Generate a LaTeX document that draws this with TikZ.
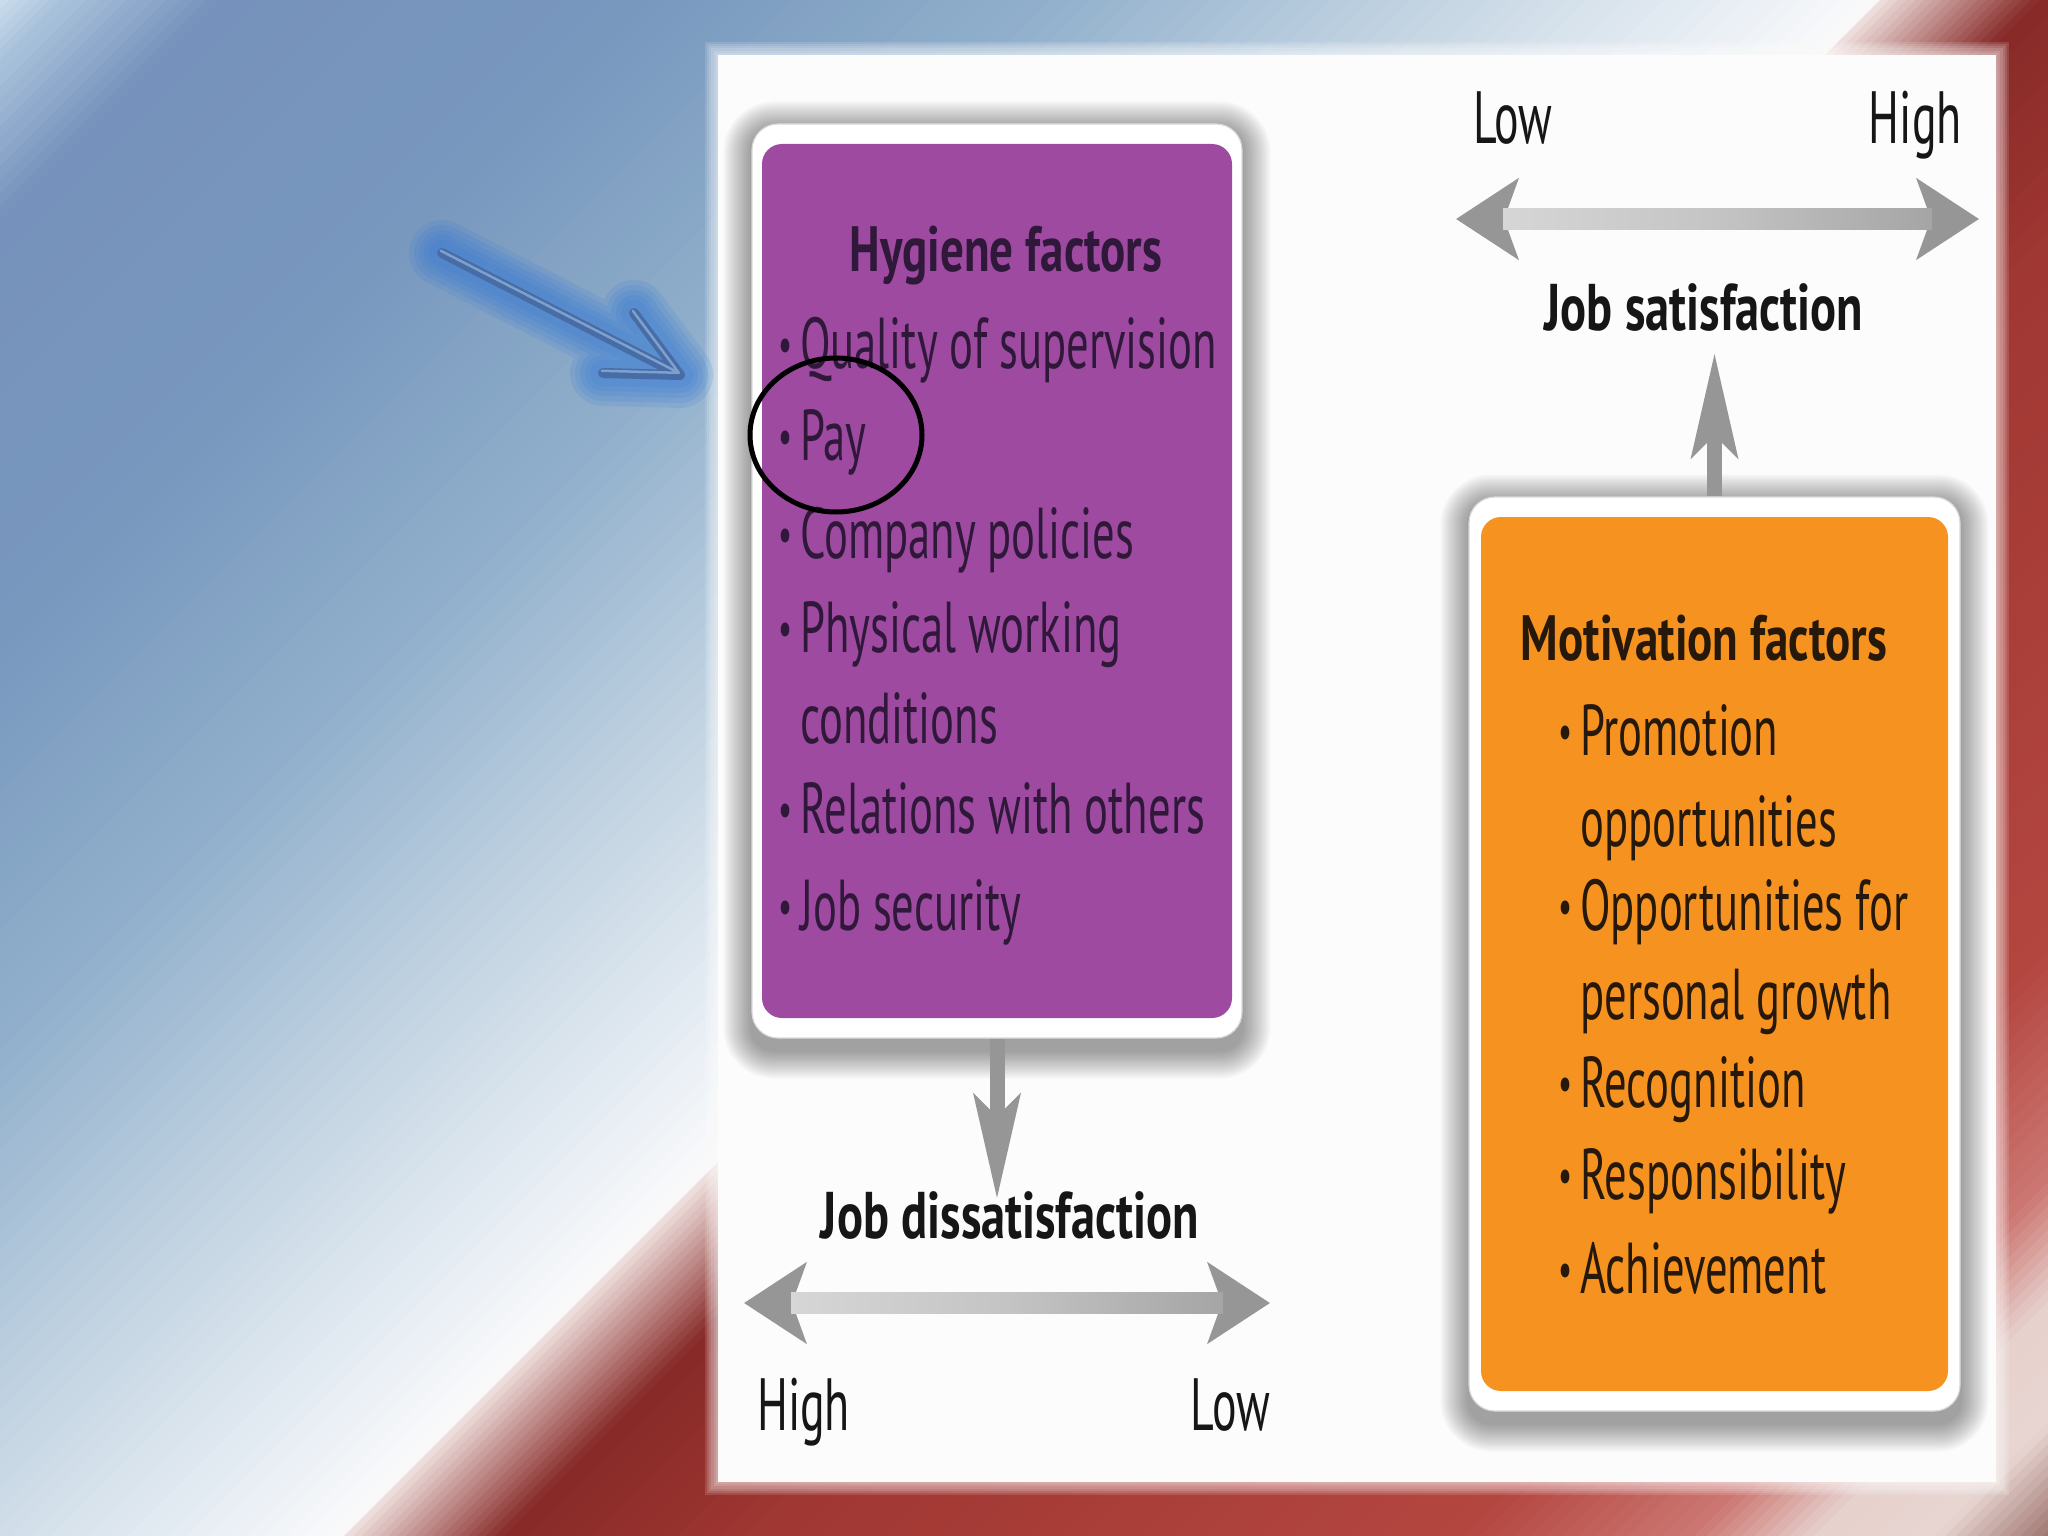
\documentclass[tikz,border=0pt]{standalone}
\usepackage{fontspec}
\setmainfont{PT Sans}
\newfontfamily\bodyf[FakeStretch=0.62]{PT Sans}
\newfontfamily\boldf[FakeStretch=0.735]{PT Sans}
\usetikzlibrary{arrows.meta,shapes.geometric,calc}

\definecolor{bgA}{RGB}{205,222,236}
\definecolor{bgB}{RGB}{170,195,220}
\definecolor{bgC}{RGB}{118,146,188}
\definecolor{bgD}{RGB}{120,152,190}
\definecolor{bgE}{RGB}{145,176,204}
\definecolor{bgF}{RGB}{198,214,228}
\definecolor{bgG}{RGB}{240,244,248}
\definecolor{bgH}{RGB}{250,250,250}
\definecolor{bgHH}{RGB}{240,226,224}
\definecolor{bgI}{RGB}{135,42,40}
\definecolor{bgJ}{RGB}{160,55,50}
\definecolor{bgK}{RGB}{180,70,64}
\definecolor{bgL}{RGB}{205,120,115}
\definecolor{bgM}{RGB}{230,208,204}
\definecolor{bgN}{RGB}{232,214,210}
\definecolor{bgO}{RGB}{150,105,100}
\definecolor{panelw}{RGB}{252,252,252}
\definecolor{hygpurple}{RGB}{157,74,160}
\definecolor{motorange}{RGB}{246,146,32}
\definecolor{headgray}{RGB}{150,150,150}
\definecolor{shaftA}{RGB}{214,214,214}
\definecolor{shaftB}{RGB}{196,196,196}
\definecolor{shaftC}{RGB}{165,165,165}
\definecolor{txtp}{RGB}{48,24,58}
\definecolor{txto}{RGB}{38,24,10}
\definecolor{txtk}{RGB}{22,22,22}
\definecolor{glowblue}{RGB}{50,120,215}
\definecolor{arrdark}{RGB}{72,108,165}
\definecolor{arrhi}{RGB}{125,160,205}

\newcommand\bgband[5]{%
  \foreach \k in {1,...,#5}{%
    \pgfmathsetmacro\ta{#1+(#2-#1)/#5*(\k-1)}%
    \pgfmathsetmacro\tb{#1+(#2-#1)/#5*\k+1.5}%
    \pgfmathtruncatemacro\pp{round(100/#5*(\k-0.5))}%
    \fill[#4!\pp!#3] (\ta,0) -- (\tb,0) -- (\tb-1600,1600) -- (\ta-1600,1600) -- cycle;
  }%
}
\newcommand\boxshadow[4]{%
  \foreach \i in {1,...,15}{%
    \pgfmathsetmacro\rr{22+1.9*\i}%
    \fill[black,opacity=0.027,rounded corners=\rr pt] (#1-1.9*\i,#2-1.9*\i+6) rectangle (#3+1.9*\i,#4+1.9*\i+12);
  }%
}

\tikzset{
  framew/.style={fill=white, draw=black!15, line width=1.2pt, rounded corners=26pt, inner sep=0pt},
  boxfill/.style={rounded corners=20pt, inner sep=0pt, draw=none},
  bul/.style={font=\bodyf\fontsize{72}{80}\selectfont, inner sep=0pt, anchor=base west},
  ttl/.style={font=\boldf\bfseries\fontsize{64}{70}\selectfont, inner sep=0pt, anchor=base},
  jobl/.style={font=\boldf\bfseries\fontsize{66}{72}\selectfont, inner sep=0pt, anchor=base, text=txtk},
  lvl/.style={font=\bodyf\fontsize{74}{80}\selectfont, inner sep=0pt, text=txtk},
  dblhead/.style={headgray, line width=21pt,
    {Stealth[length=62pt,width=80pt,inset=14pt]}-{Stealth[length=62pt,width=80pt,inset=14pt]}},
  vhead/.style={headgray, line width=15pt, -{Stealth[length=104pt,width=46pt,inset=22pt]}},
}
\newcommand\bu{\makebox[22pt][l]{\raisebox{7pt}{\fontsize{50}{50}\selectfont\textbullet}}}

\begin{document}
\begin{tikzpicture}[x=1pt,y=-1pt]
\useasboundingbox (0,0) rectangle (2048,1536);
\clip (0,0) rectangle (2048,1536);

% ---- background diagonal gradient ----
\bgband{0}{60}{bgA}{bgB}{6}
\bgband{60}{220}{bgB}{bgC}{12}
\bgband{220}{650}{bgC}{bgD}{10}
\bgband{650}{1050}{bgD}{bgE}{20}
\bgband{1050}{1450}{bgE}{bgF}{20}
\bgband{1450}{1800}{bgF}{bgG}{18}
\bgband{1800}{1880}{bgG}{bgH}{4}
\bgband{1880}{2040}{bgHH}{bgI}{18}
\bgband{2040}{2300}{bgI}{bgJ}{12}
\bgband{2300}{3000}{bgJ}{bgK}{24}
\bgband{3000}{3230}{bgK}{bgL}{14}
\bgband{3230}{3350}{bgL}{bgM}{10}
\bgband{3350}{3470}{bgM}{bgN}{4}
\bgband{3470}{3600}{bgN}{bgO}{12}

% ---- white panel ----
\foreach \i in {1,...,6}{\fill[white,opacity=0.13] (718-2.2*\i,55-2.2*\i) rectangle (1996+2.2*\i,1482+2.2*\i);}
\node[fill=panelw, minimum width=1278pt, minimum height=1427pt, inner sep=0pt] (panel) at (1357,768.5) {};

% ---- box shadows ----
\boxshadow{752}{124}{1242}{1038}
\boxshadow{1469}{497}{1960}{1411}

% ---- hygiene box ----
\node[framew, minimum width=490pt, minimum height=914pt] (pframe) at (997,581) {};
\node[boxfill, fill=hygpurple, minimum width=470pt, minimum height=874pt] (pbox) at (997,581) {};
\node[ttl, text=txtp] (h0) at (1006,271) {Hygiene factors};
\node[bul, text=txtp] (h1) at (778,368) {\bu Quality of supervision};
\node[bul, text=txtp] (h2) at (778,460) {\bu Pay};
\node[bul, text=txtp] (h3) at (778,558) {\bu Company policies};
\node[bul, text=txtp] (h4) at (778,652) {\bu Physical working};
\node[bul, text=txtp] (h5) at (800,743) {conditions};
\node[bul, text=txtp] (h6) at (778,833) {\bu Relations with others};
\node[bul, text=txtp] (h7) at (778,930) {\bu Job security};

% ---- motivation box ----
\node[framew, minimum width=491pt, minimum height=914pt] (oframe) at (1714.5,954) {};
\node[boxfill, fill=motorange, minimum width=467pt, minimum height=874pt] (obox) at (1714.5,954) {};
\node[ttl, text=txto] (m0) at (1704,660) {Motivation factors};
\node[bul, text=txto] (m1) at (1558,755) {\bu Promotion};
\node[bul, text=txto] (m2) at (1580,846) {opportunities};
\node[bul, text=txto] (m3) at (1558,930) {\bu Opportunities for};
\node[bul, text=txto] (m4) at (1580,1019) {personal growth};
\node[bul, text=txto] (m5) at (1558,1107) {\bu Recognition};
\node[bul, text=txto] (m6) at (1558,1199) {\bu Responsibility};
\node[bul, text=txto] (m7) at (1558,1293) {\bu Achievement};

% ---- labels ----
\node[jobl] (js) at (1704,330) {Job satisfaction};
\node[jobl] (jd) at (1010,1238) {Job dissatisfaction};
\node[lvl, anchor=base west] (lowT) at (1473,144) {Low};
\node[lvl, anchor=base east] (highT) at (1962,144) {High};
\node[lvl, anchor=base west] (highB) at (757,1430) {High};
\node[lvl, anchor=base east] (lowB) at (1270,1430) {Low};

% ---- gray arrows ----
\coordinate (sL) at (1456,219);
\coordinate (sR) at (1979,219);
\draw[dblhead] (sL) -- (sR);
\fill[left color=shaftA, right color=shaftC, middle color=shaftB] ($(sL)+(47,-10.5)$) rectangle ($(sR)+(-47,10.5)$);

\coordinate (dL) at (744,1303);
\coordinate (dR) at (1270,1303);
\draw[dblhead] (dL) -- (dR);
\fill[left color=shaftA, right color=shaftC, middle color=shaftB] ($(dL)+(47,-10.5)$) rectangle ($(dR)+(-47,10.5)$);

\draw[vhead, shorten >=22pt] (oframe.north) -- (oframe.north |- js.south);
\draw[vhead, shorten >=-8pt] (pframe.south) -- (pframe.south |- jd.north);

% ---- circle around Pay ----
\node[draw=black, ellipse, line width=5pt, minimum width=172pt, minimum height=154pt, inner sep=0pt] (ring) at (836,435) {};

% ---- blue pointer arrow ----
\coordinate (bt) at (442,253);
\coordinate (btip) at (680,375);
\coordinate (bb1) at (634,313);
\coordinate (bb2) at (603,373);
\foreach \w in {66,56,46,36,26}{%
  \draw[glowblue, opacity=0.15, line width=\w pt, line cap=round, line join=round] (bt) -- (btip) (bb1) -- (btip) -- (bb2);
}
\draw[arrdark, line width=10pt, line cap=round, line join=round] (bt) -- (btip) (bb1) -- (btip) -- (bb2);
\draw[arrhi, line width=2.5pt, line cap=round, line join=round, transform canvas={shift={(-1.2pt,2.2pt)}}] (bt) -- (btip) (bb1) -- (btip) -- (bb2);
\end{tikzpicture}
\end{document}
